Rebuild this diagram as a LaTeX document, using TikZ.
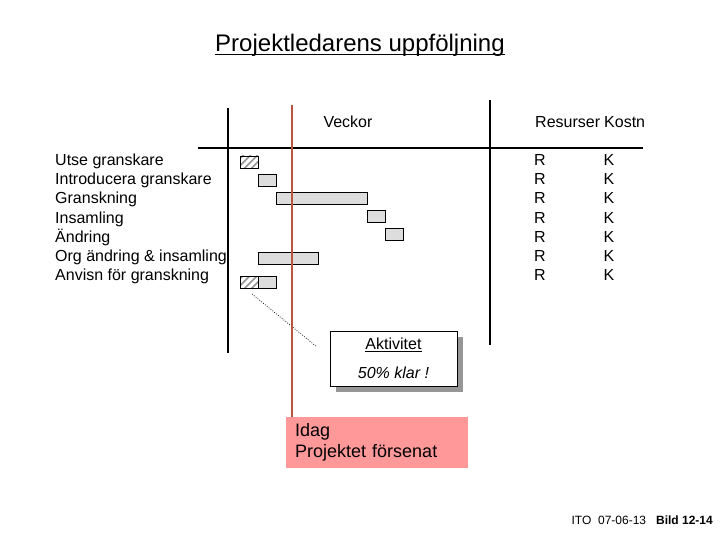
\documentclass[tikz,border=0pt]{standalone}
\usepackage{fontspec}
\setmainfont{Liberation Sans}
\usetikzlibrary{patterns.meta,shadows}

\definecolor{todayred}{RGB}{185,85,60}
\definecolor{barfill}{RGB}{221,221,221}
\definecolor{idagpink}{RGB}{255,153,153}
\definecolor{shadowgray}{RGB}{150,150,150}

\tikzset{
	txt/.style={inner sep=0pt, anchor=base west, font=\fontsize{16}{19}\selectfont},
	colhead/.style={inner sep=0pt, anchor=base, font=\fontsize{16}{19}\selectfont},
	barbase/.style={draw, line width=0.8pt, inner sep=0pt, minimum height=12pt},
	bar/.style={barbase, fill=barfill},
	donebar/.style={barbase, pattern={Lines[angle=45,distance=5pt,line width=1.6pt]}, pattern color=gray!85},
	axis/.style={line width=1.1pt},
}

\begin{document}
\begin{tikzpicture}[x=1pt,y=-1pt]
		\useasboundingbox (0,0) rectangle (720,540);

		\node (title) at (360,51.5) [anchor=base, inner sep=0pt, font=\fontsize{24}{28}\selectfont] {Projektledarens uppföljning};
		\draw [line width=1.2pt] ([yshift=-3pt]title.base west) -- ([yshift=-3pt]title.base east);

		% frame lines
		\draw [axis] (228,108) -- (228,353);
		\draw [axis] (490,100) -- (490,345);
		\draw [axis] (198,148) -- (643,148);

		\node (veckor) at (348,127.5) [colhead] {Veckor};
		\node (resurser) at (535,127.5) [txt] {Resurser};
		\node (kostn) at (604,127.5) [txt] {Kostn};

		% activities
		\node (t1) at (55,165.5) [txt] {Utse granskare};
		\node (t2) at (55,184.7) [txt] {Introducera granskare};
		\node (t3) at (55,203.9) [txt] {Granskning};
		\node (t4) at (55,223.1) [txt] {Insamling};
		\node (t5) at (55,242.3) [txt] {Ändring};
		\node (t6) at (55,261.5) [txt] {Org ändring \& insamling};
		\node (t7) at (55,280.7) [txt] {Anvisn för granskning};

		\node (r1) at (540,165.5) [colhead] {R};
		\node (r2) at (540,184.7) [colhead] {R};
		\node (r3) at (540,203.9) [colhead] {R};
		\node (r4) at (540,223.1) [colhead] {R};
		\node (r5) at (540,242.3) [colhead] {R};
		\node (r6) at (540,261.5) [colhead] {R};
		\node (r7) at (540,280.7) [colhead] {R};

		\node (k1) at (609,165.5) [colhead] {K};
		\node (k2) at (609,184.7) [colhead] {K};
		\node (k3) at (609,203.9) [colhead] {K};
		\node (k4) at (609,223.1) [colhead] {K};
		\node (k5) at (609,242.3) [colhead] {K};
		\node (k6) at (609,261.5) [colhead] {K};
		\node (k7) at (609,280.7) [colhead] {K};

		% gantt bars
		\node (b1) at (249,162) [donebar, minimum width=18pt] {};
		\node (b2) at (267,180) [bar, minimum width=18pt] {};
		\node (b3) at (321.5,198) [bar, minimum width=91pt] {};
		\node (b4) at (376,216) [bar, minimum width=18pt] {};
		\node (b5) at (394,234) [bar, minimum width=18pt] {};
		\node (b6) at (288,258) [bar, minimum width=60pt] {};
		\node (b7a) at (249,282) [donebar, minimum width=18pt] {};
		\node (b7b) at (267,282) [bar, minimum width=18pt] {};

		% callout
		\node (akt) at (393.5,358.5) [draw, fill=white, line width=0.8pt, minimum width=127pt, minimum height=55pt,
		align=center, font=\fontsize{16}{29}\selectfont,
		drop shadow={shadow xshift=6pt, shadow yshift=-6pt, fill=shadowgray, opacity=1}] {\underline{Aktivitet}\\\textit{50\% klar !}};

		\coordinate (dotS) at (252,294);
		\coordinate (dotE) at (317,347);
		\draw [line width=0.7pt, dash pattern=on 0.8pt off 1.6pt] (dotS) -- (dotE);

		\node (idag) at (286,417) [anchor=north west, fill=idagpink, minimum width=182pt, minimum height=51pt,
		inner xsep=9pt, text width=164pt, align=left, font=\fontsize{18}{21}\selectfont] {Idag\\Projektet försenat};

		\coordinate (today) at (292,105);
		\draw [todayred, line width=2.6pt] (today) -- (today |- idag.north);

		\node (footer) at (713,524) [anchor=base east, inner sep=0pt, font=\fontsize{12}{14}\selectfont] {ITO\ \ 07-06-13\ \ \ \textbf{Bild 12-14}};

\end{tikzpicture}
\end{document}
